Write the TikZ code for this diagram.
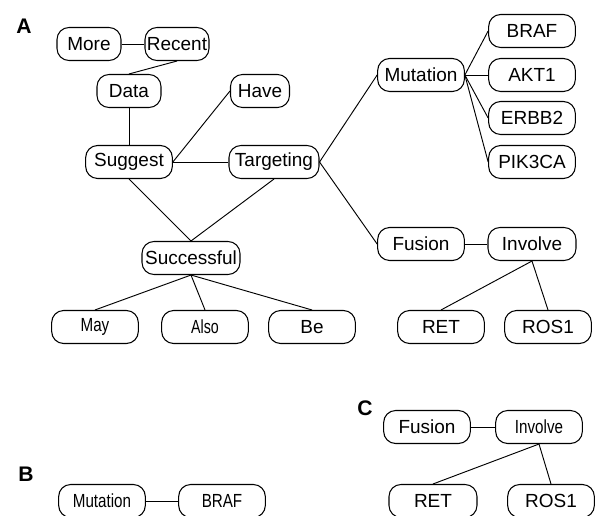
\documentclass[tikz,border=0pt]{standalone}
\usepackage{fontspec}
\setmainfont{Liberation Sans}
\usepackage{tikz}
\newcommand{\nartext}[1]{\scalebox{0.8}[1]{#1}}
\tikzset{
  wbox/.style={draw, line width=0.9pt, rounded corners=0.36cm, minimum width=2.6cm,
    minimum height=0.99cm, inner sep=0pt, font=\fontsize{16.2}{18}\selectfont},
  link/.style={line width=0.8pt},
  panel/.style={font=\fontsize{18}{20}\selectfont\bfseries}
}

\begin{document}
\begin{tikzpicture}[x=0.03cm, y=-0.03cm]
        \clip (0,0) rectangle (595,516);
        % 图A
        \node [panel] (labA) at (24,26) {A};
        \node [wbox, minimum width=1.92cm] (more) at (89,44) {More};
        \node [wbox, minimum width=1.92cm] (recent) at (177,44) {Recent};
        \node [wbox, minimum width=1.92cm] (data) at (129,91) {Data};
        \node [wbox, minimum width=1.77cm] (have) at (260,91) {Have};
        \node [wbox] (suggest) at (129,162) {Suggest};
        \node [wbox, minimum width=2.7cm] (targeting) at (274,162) {Targeting};
        \node [wbox] (mutation) at (421,75) {Mutation};
        \node [wbox] (braf) at (532,31) {BRAF};
        \node [wbox] (akt) at (532,75) {AKT1};
        \node [wbox] (erbb) at (532,118) {ERBB2};
        \node [wbox] (pik) at (532,162) {PIK3CA};
        \node [wbox, minimum width=2.94cm] (successful) at (191,258) {Successful};
        \node [wbox] (may) at (95,327) {\nartext{May}};
        \node [wbox] (also) at (205,327) {\scalebox{0.75}[1]{Also}};
        \node [wbox] (be) at (312,327) {Be};
        \node [wbox] (fusion) at (421,244) {Fusion};
        \node [wbox, minimum width=2.64cm] (involve) at (532,244) {Involve};
        \node [wbox] (ret) at (441,327) {RET};
        \node [wbox] (ros) at (548,327) {ROS1};
        \draw [link] (more.east) -- (recent.west);
        \draw [link] (recent.south) -- (data.north);
        \draw [link] (data.south) -- (suggest.north);
        \draw [link] (suggest.east) -- (have.west);
        \draw [link] (suggest.east) -- (targeting.west);
        \draw [link] (suggest.south) -- (successful.north);
        \draw [link] (targeting.south) -- (successful.north);
        \draw [link] (targeting.east) -- (mutation.west);
        \draw [link] (targeting.east) -- (fusion.west);
        \draw [link] (mutation.east) -- (braf.west);
        \draw [link] (mutation.east) -- (akt.west);
        \draw [link] (mutation.east) -- (erbb.west);
        \draw [link] (mutation.east) -- (pik.west);
        \draw [link] (successful.south) -- (may.north);
        \draw [link] (successful.south) -- (also.north);
        \draw [link] (successful.south) -- (be.north);
        \draw [link] (fusion.east) -- (involve.west);
        \draw [link] (involve.south) -- (ret.north);
        \draw [link] (involve.south) -- (ros.north);
        % 图B
        \node [panel] (labB) at (26,474) {B};
        \node [wbox] (mutationB) at (102,501) {\nartext{Mutation}};
        \node [wbox] (brafB) at (222,501) {\nartext{BRAF}};
        \draw [link] (mutationB.east) -- (brafB.west);
        % 图C
        \node [panel] (labC) at (365,408) {C};
        \node [wbox] (fusionC) at (427,427) {Fusion};
        \node [wbox] (involveC) at (539,427) {\nartext{Involve}};
        \node [wbox, minimum width=2.64cm] (retC) at (433,501) {RET};
        \node [wbox] (rosC) at (551,501) {ROS1};
        \draw [link] (fusionC.east) -- (involveC.west);
        \draw [link] (involveC.south) -- (retC.north);
        \draw [link] (involveC.south) -- (rosC.north);
\end{tikzpicture}
\end{document}
